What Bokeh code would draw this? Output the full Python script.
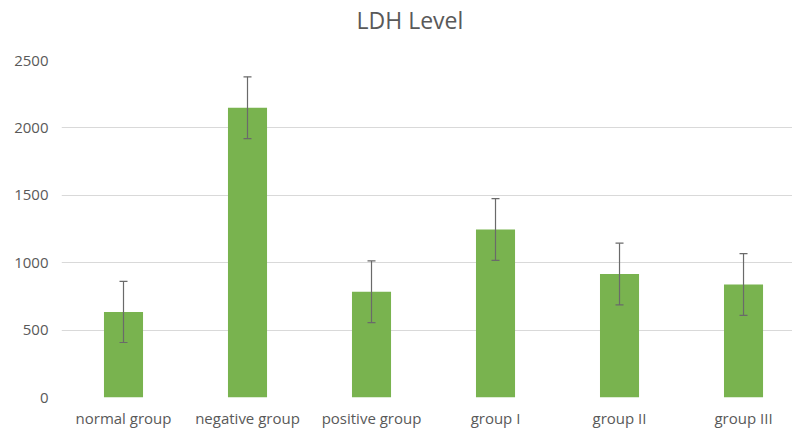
from bokeh.plotting import figure
from bokeh.models import ColumnDataSource, Range1d, FixedTicker, Whisker, TeeHead, Title
from bokeh.embed import file_html
from bokeh.resources import INLINE

categories = ["normal group", "negative group", "positive group", "group I", "group II", "group III"]
ldh_values = [635, 2150, 784, 1246, 916, 838]
ldh_errors = [227, 229, 229, 229, 229, 229]
y_ticks = [0, 500, 1000, 1500, 2000, 2500]
title_text = "LDH Level"

FONT = "Open Sans"
TEXT_COLOR = "#595959"
BAR_COLOR = "#79B34F"
ERR_COLOR = "#6a6a6a"

xs = [i + 0.5 for i in range(len(categories))]
source = ColumnDataSource(dict(
    x=xs,
    top=ldh_values,
    upper=[v + e for v, e in zip(ldh_values, ldh_errors)],
    lower=[v - e for v, e in zip(ldh_values, ldh_errors)],
))

p = figure(width=792, height=430, output_backend="svg", toolbar_location=None,
           x_range=Range1d(0, 5.895), y_range=Range1d(0, 2500),
           min_border_left=61, min_border_right=0, min_border_top=60, min_border_bottom=33)
p.outline_line_color = None
p.background_fill_color = "white"
p.border_fill_color = "white"

# spacer between the title and the plot frame, then the title itself
spacer = Title(text=" ", text_font=FONT, text_font_size="17px", standoff=0)
p.add_layout(spacer, "above")
main_title = Title(text=title_text, align="left", offset=295, standoff=0,
                   text_font=FONT, text_font_size="23px", text_font_style="normal",
                   text_color=TEXT_COLOR)
p.add_layout(main_title, "above")

p.vbar(x="x", top="top", width=0.315, bottom=0, source=source,
       fill_color=BAR_COLOR, line_color=None)

w = Whisker(base="x", upper="upper", lower="lower", source=source,
            line_color=ERR_COLOR, line_width=1.2, level="overlay",
            upper_head=TeeHead(size=8, line_color=ERR_COLOR, line_width=1.2),
            lower_head=TeeHead(size=8, line_color=ERR_COLOR, line_width=1.2))
p.add_layout(w)

# axes
p.xaxis.ticker = FixedTicker(ticks=xs)
p.xaxis.major_label_overrides = {x: c for x, c in zip(xs, categories)}
p.yaxis.ticker = FixedTicker(ticks=y_ticks)
for ax in (p.xaxis[0], p.yaxis[0]):
    ax.axis_line_color = None
    ax.major_tick_line_color = None
    ax.minor_tick_line_color = None
    ax.major_tick_out = 0
    ax.major_tick_in = 0
    ax.major_label_text_font = FONT
    ax.major_label_text_font_size = "15px"
    ax.major_label_text_color = TEXT_COLOR
p.yaxis.major_label_standoff = 13
p.xaxis.major_label_standoff = 10

p.xgrid.grid_line_color = None
p.ygrid.ticker = FixedTicker(ticks=y_ticks)
p.ygrid.grid_line_color = "#d9d9d9"
p.ygrid.grid_line_width = 1

open("out.html", "w").write(file_html(p, INLINE))
